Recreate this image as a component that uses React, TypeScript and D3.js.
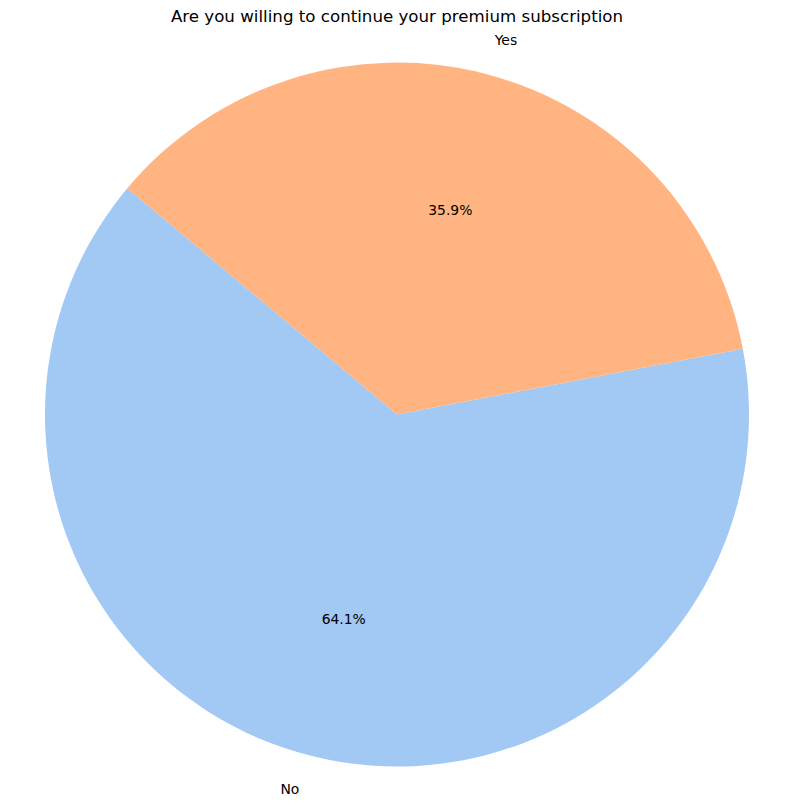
import React from "react";
import * as d3 from "d3";

const categories = ["No", "Yes"];
const values = [64.1, 35.9];
const colors = ["#a1c9f4", "#ffb482"];
const title = "Are you willing to continue your premium subscription";

export default function App() {
  const W = 794, H = 810;
  const cx = 397, cy = 414.5, r = 352;
  const startDeg = 140; // matplotlib startangle, counterclockwise from +x
  const total = d3.sum(values);
  const toRad = (deg: number) => (deg * Math.PI) / 180;
  const pie = d3
    .pie<number>()
    .sort(null)
    .startAngle(toRad(90 - startDeg))
    .endAngle(toRad(90 - startDeg) - 2 * Math.PI)
    .value((d) => d);
  const arcs = pie(values);
  const arc = d3.arc<d3.PieArcDatum<number>>().innerRadius(0).outerRadius(r);
  const font = "DejaVu Sans, sans-serif";
  return (
    <svg width={W} height={H} style={{ position: "absolute", left: 0, top: 0 }}>
      <rect width={W} height={H} fill="white" />
      <text x={cx} y={22} textAnchor="middle" fontFamily={font} fontSize={16.67} fill="#000">
        {title}
      </text>
      <g transform={`translate(${cx},${cy})`}>
        {arcs.map((a, i) => {
          const mid = (a.startAngle + a.endAngle) / 2;
          const lx = Math.sin(mid) * r * 1.1;
          const ly = -Math.cos(mid) * r * 1.1;
          const px = Math.sin(mid) * r * 0.6;
          const py = -Math.cos(mid) * r * 0.6;
          return (
            <g key={categories[i]}>
              <path d={arc(a) as string} fill={colors[i]} />
              <text
                x={lx}
                y={ly}
                textAnchor={lx < 0 ? "end" : "start"}
                dominantBaseline="central"
                fontFamily={font}
                fontSize={13.9}
                fill="#000"
              >
                {categories[i]}
              </text>
              <text
                x={px}
                y={py}
                textAnchor="middle"
                dominantBaseline="central"
                fontFamily={font}
                fontSize={13.9}
                fill="#000"
              >
                {((values[i] / total) * 100).toFixed(1) + "%"}
              </text>
            </g>
          );
        })}
      </g>
    </svg>
  );
}
